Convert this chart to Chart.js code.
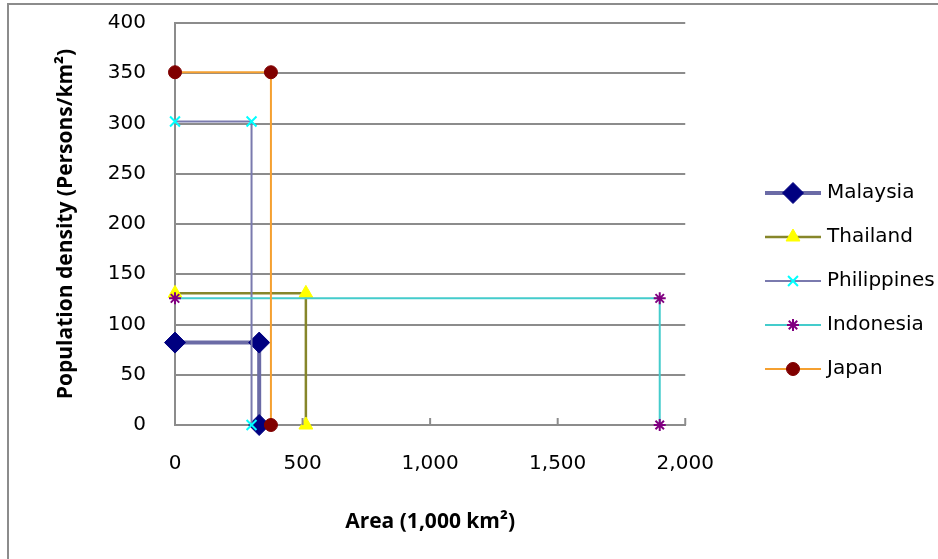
<!DOCTYPE html>
<html>
<head>
<meta charset="utf-8">
<script src="https://cdn.jsdelivr.net/npm/chart.js@4.4.1/dist/chart.umd.min.js"></script>
<style>
  html, body { margin: 0; padding: 0; background: #fff; overflow: hidden; }
  #wrap { position: absolute; left: 0; top: 0; width: 938px; height: 559px; }
  #frame { position: absolute; left: 7px; top: 3px; width: 2000px; height: 2000px; border: 2px solid #8c8c8c; pointer-events: none; }
</style>
</head>
<body>
<div id="wrap"><canvas id="areaChart" width="938" height="559"></canvas></div>
<div id="frame"></div>
<script>
// Chart data
const countries = ['Malaysia', 'Thailand', 'Philippines', 'Indonesia', 'Japan'];
const areas = [330, 513, 300, 1900, 376];          // 1,000 km2
const densities = [82, 131, 302, 126, 351];        // persons / km2
const xTicks = [0, 500, 1000, 1500, 2000];
const yTicks = [0, 50, 100, 150, 200, 250, 300, 350, 400];

// Series styling
const lineColors = ['#6b6ba6', '#86862a', '#7a7aae', '#44cccc', '#f5a030'];
const lineWidths = [4, 2.5, 2, 2, 2];
const markerColors = ['#000080', '#ffff00', '#00ffff', '#800080', '#800000'];
const markerStyles = ['rectRot', 'triangle', 'crossRot', 'star', 'circle'];
const markerSizes = [10.5, 8, 7, 6, 6.5];

const tickFont = { family: 'DejaVu Sans', size: 20 };
const titleFont = { family: 'Open Sans', size: 21, weight: 'bold' };

// each country: from the y axis across at its density, then down to zero at its area
const datasets = countries.map((name, i) => ({
    label: name,
    data: [
        { x: 0, y: densities[i] },
        { x: areas[i], y: densities[i] },
        { x: areas[i], y: 0 }
    ],
    showLine: true,
    tension: 0,
    borderColor: lineColors[i],
    borderWidth: lineWidths[i],
    pointStyle: markerStyles[i],
    pointRadius: markerSizes[i],
    pointHoverRadius: markerSizes[i],
    pointBackgroundColor: markerColors[i],
    pointBorderColor: markerColors[i],
    pointBorderWidth: (markerStyles[i] === 'crossRot' || markerStyles[i] === 'star') ? 2 : 1,
    order: countries.length - i,
    clip: false
}));

// Legend icons: short line with the marker in the middle
const legendIcons = datasets.map(ds => {
    const c = document.createElement('canvas');
    c.width = 56;
    c.height = 24;
    const ctx = c.getContext('2d');
    ctx.strokeStyle = ds.borderColor;
    ctx.lineWidth = ds.borderWidth;
    ctx.beginPath();
    ctx.moveTo(0, 12);
    ctx.lineTo(56, 12);
    ctx.stroke();
    ctx.fillStyle = ds.pointBackgroundColor;
    ctx.strokeStyle = ds.pointBorderColor;
    ctx.lineWidth = ds.pointBorderWidth;
    Chart.helpers.drawPoint(ctx, {
        pointStyle: ds.pointStyle,
        radius: ds.pointRadius,
        borderWidth: ds.pointBorderWidth,
        rotation: 0
    }, 28, 12);
    return c;
});

// small upward tick marks on the x axis
const innerTicks = {
    id: 'innerTicks',
    afterDraw(chart) {
        const sx = chart.scales.x;
        const ctx = chart.ctx;
        ctx.save();
        ctx.strokeStyle = '#8c8c8c';
        ctx.lineWidth = 2;
        xTicks.forEach(v => {
            const px = sx.getPixelForValue(v);
            ctx.beginPath();
            ctx.moveTo(px, sx.top);
            ctx.lineTo(px, sx.top - 7);
            ctx.stroke();
        });
        ctx.restore();
    }
};

// push the legend over to the right edge
const legendShift = {
    id: 'legendShift',
    afterLayout(chart) {
        const lg = chart.legend;
        const dx = 745 - lg.left;
        lg.left += dx;
        lg.right += dx;
        lg.top -= 4;
        lg.bottom -= 4;
    }
};

new Chart(document.getElementById('areaChart'), {
    type: 'scatter',
    data: { datasets: datasets },
    plugins: [innerTicks, legendShift],
    options: {
        responsive: false,
        animation: false,
        layout: { padding: { left: 53, top: 23, right: 53, bottom: 12 } },
        plugins: {
            tooltip: { enabled: false },
            legend: {
                position: 'right',
                labels: {
                    usePointStyle: true,
                    pointStyleWidth: 48,
                    padding: 24,
                    color: '#000',
                    font: tickFont,
                    generateLabels: () => datasets.map((ds, i) => ({
                        text: ds.label,
                        pointStyle: legendIcons[i],
                        fillStyle: 'transparent',
                        strokeStyle: 'transparent',
                        lineWidth: 0,
                        hidden: false,
                        datasetIndex: i,
                        fontColor: '#000'
                    }))
                }
            }
        },
        scales: {
            x: {
                type: 'linear',
                min: xTicks[0],
                max: xTicks[xTicks.length - 1],
                afterFit: scale => { scale.height = 122; },
                afterBuildTicks: scale => { scale.ticks = xTicks.map(v => ({ value: v })); },
                grid: { display: false, drawTicks: false },
                border: { display: true, color: '#8c8c8c', width: 2 },
                ticks: {
                    padding: 27,
                    color: '#000',
                    font: tickFont,
                    callback: v => v.toLocaleString('en-US')
                },
                title: {
                    display: true,
                    text: 'Area (1,000 km²)',
                    color: '#000',
                    font: titleFont,
                    padding: { top: 0, bottom: 12 }
                }
            },
            y: {
                type: 'linear',
                min: yTicks[0],
                max: yTicks[yTicks.length - 1],
                afterFit: scale => {
                    scale.width = 122;
                    scale.paddingTop = 12;
                    scale.paddingBottom = 0;
                },
                afterBuildTicks: scale => { scale.ticks = yTicks.map(v => ({ value: v })); },
                grid: { color: '#8c8c8c', lineWidth: 2, drawTicks: false },
                border: { display: true, color: '#8c8c8c', width: 2 },
                ticks: {
                    padding: 29,
                    color: '#000',
                    font: tickFont
                },
                title: {
                    display: true,
                    text: 'Population density (Persons/km²)',
                    color: '#000',
                    font: titleFont,
                    padding: { top: 0, bottom: 0 }
                }
            }
        }
    }
});
</script>
</body>
</html>
